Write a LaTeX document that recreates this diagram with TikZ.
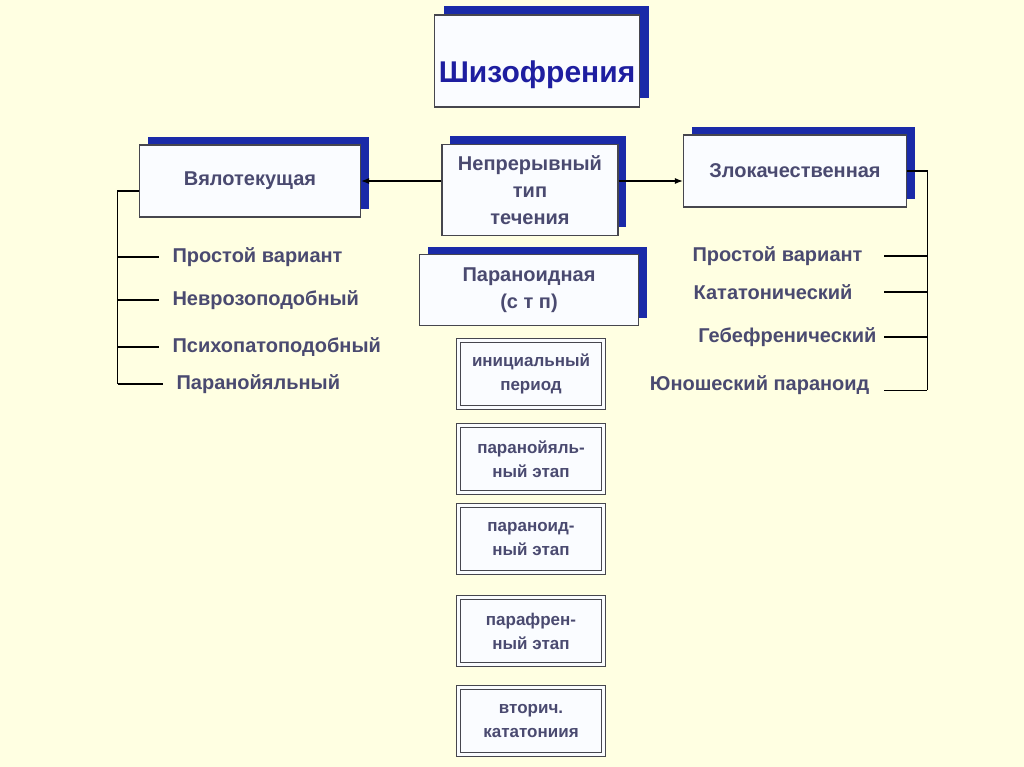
\documentclass[tikz,border=0pt]{standalone}
\usepackage{fontspec}
\setmainfont{Liberation Sans}
\usetikzlibrary{shadows}
\usetikzlibrary{calc}
\usetikzlibrary{arrows.meta}
\definecolor{bgcream}{RGB}{255,255,226}
\definecolor{shblue}{RGB}{26,42,168}
\definecolor{txgray}{RGB}{74,74,112}
\definecolor{ttblue}{RGB}{30,30,160}
\definecolor{edgegray}{RGB}{70,70,78}
\definecolor{boxwhite}{RGB}{250,252,255}
\tikzset{type box/.style={draw=edgegray, fill=boxwhite, line width=1.2pt, text=txgray, align=center, inner sep=0pt, font=\bfseries\fontsize{20}{27}\selectfont}}
\tikzset{blue shadow/.style={drop shadow={fill=shblue, opacity=1, shadow xshift=#1, shadow yshift=#1}}}
\tikzset{stage box/.style={draw=edgegray, line width=1.1pt, double=boxwhite, double distance=2.4pt, fill=boxwhite, text=txgray, align=center, inner sep=0pt, minimum width=145pt, minimum height=67pt, font=\bfseries\fontsize{17}{24}\selectfont}}
\tikzset{form label/.style={text=txgray, inner sep=1pt, font=\bfseries\fontsize{20}{24}\selectfont}}

\begin{document}
\begin{tikzpicture}[x=1pt, y=-1pt, >={Latex[length=8pt,width=6pt]}, line width=1.1pt]

          %背景
          \fill[bgcream] (0,0) rectangle (1024,767);

          %タイトル
          \node[type box, blue shadow=9pt, minimum width=205pt, text height=68pt, text depth=24pt, text=ttblue, font=\bfseries\fontsize{30}{34}\selectfont] (sz) at (537,61) {Шизофрения};

          %三つの型
          \node[type box, blue shadow=8pt, minimum width=221pt, minimum height=72pt] (vt) at (250,181) {Вялотекущая};
          \node[type box, blue shadow=8pt, minimum width=176pt, minimum height=91pt] (np) at (530,190) {Непрерывный\\тип\\течения};
          \node[type box, blue shadow=8pt, minimum width=223pt, minimum height=72pt] (zk) at (795,171) {Злокачественная};
          \draw[->] (np.west |- vt.east) to (vt.east);
          \draw[->] (np.east |- vt.east) to (zk.west |- vt.east);

          %вялотекущая の枝
          \node[form label, anchor=west] (l1) at (171,257) {Простой вариант};
          \node[form label, anchor=west] (l2) at (171,300) {Неврозоподобный};
          \node[form label, anchor=west] (l3) at (171,347) {Психопатоподобный};
          \node[form label, anchor=west] (l4) at (175,384) {Паранойяльный};
          \draw ([yshift=-10pt]vt.west) -- ++(-21,0) coordinate (lb) -- (lb |- l4.west);
          \foreach \n in {l1,l2,l3,l4}
            \draw (lb |- \n.west) -- ([xshift=-12pt]\n.west);

          %злокачественная の枝
          \node[form label, anchor=east] (r1) at (864,256) {Простой вариант};
          \node[form label, anchor=east] (r2) at (854,292) {Кататонический};
          \node[form label, anchor=east] (r3) at (878,337) {Гебефренический};
          \node[form label, anchor=east] (r4) at (871,385) {Юношеский параноид};
          \draw (zk.east) -- ++(20,0) coordinate (rb) -- (rb |- r4.base);
          \foreach \n in {r1,r2,r3}
            \draw (rb |- \n.east) -- ++(-43,0);
          \draw (rb |- r4.base) -- ++(-43,0);

          %параноидная と段階
          \node[type box, blue shadow=8pt, minimum width=219pt, minimum height=71pt] (pr) at (529,290) {Параноидная\\(с т п)};
          \node[stage box] (s1) at (531,374) {инициальный\\период};
          \node[stage box] (s2) at (531,459) {паранойяль-\\ный этап};
          \node[stage box] (s3) at (531,539) {параноид-\\ный этап};
          \node[stage box] (s4) at (531,631) {парафрен-\\ный этап};
          \node[stage box] (s5) at (531,721) {вторич.\\кататониия};

\end{tikzpicture}
\end{document}
